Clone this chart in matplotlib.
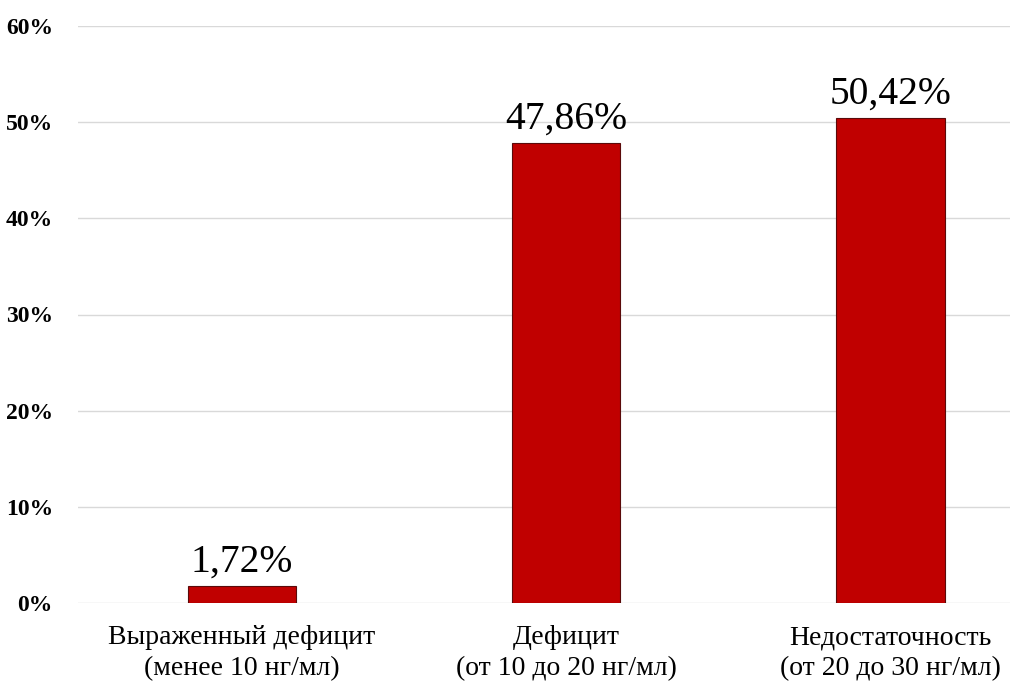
import matplotlib
matplotlib.use("Agg")
import matplotlib.pyplot as plt
from matplotlib.ticker import FuncFormatter

categories = ["Выраженный дефицит\n(менее 10 нг/мл)",
              "Дефицит\n(от 10 до 20 нг/мл)",
              "Недостаточность\n(от 20 до 30 нг/мл)"]
values = [1.72, 47.86, 50.42]
labels = ["1,72%", "47,86%", "50,42%"]
y_ticks = [0, 10, 20, 30, 40, 50, 60]

plt.rcParams["font.family"] = ["Liberation Serif", "DejaVu Serif"]

fig = plt.figure(figsize=(10.16, 6.82), dpi=100)
ax = fig.add_axes([78 / 1016, 79 / 682, 932 / 1016, 577 / 682])

x = list(range(len(values)))
bars = ax.bar(x, values, width=0.336, color="#C00000", edgecolor="#5a0a0a", linewidth=0.8, zorder=3)
for b, lab in zip(bars, labels):
    ax.annotate(lab, (b.get_x() + b.get_width() / 2, b.get_height()),
                xytext=(0, 4), textcoords="offset points",
                ha="center", va="bottom", fontsize=28.5, color="black")

ax.set_xlim(-0.506, 2.37)
ax.set_ylim(0, 60)
ax.set_yticks(y_ticks)
ax.yaxis.set_major_formatter(FuncFormatter(lambda v, _: f"{v:.0f}%"))
ax.set_xticks(x)
ax.set_xticklabels(categories, fontsize=20, linespacing=1.3)
for t in ax.get_yticklabels():
    t.set_fontweight("bold")
    t.set_fontsize(17)
ax.tick_params(axis="both", length=0)
ax.tick_params(axis="y", pad=18)
ax.tick_params(axis="x", pad=16)
ax.grid(axis="y", color="#d9d9d9", linewidth=1.0, zorder=0)
for s in ax.spines.values():
    s.set_visible(False)

fig.savefig("out.png", dpi=100, facecolor="white")
